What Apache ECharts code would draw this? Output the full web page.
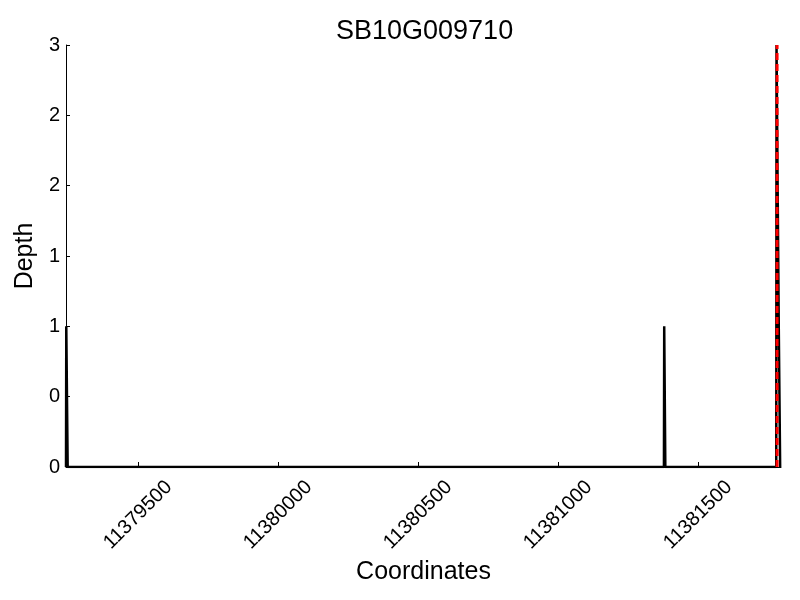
<!DOCTYPE html>
<html>
<head>
<meta charset="utf-8">
<script src="https://cdn.jsdelivr.net/npm/echarts@6/dist/echarts.min.js"></script>
<style>html,body{margin:0;padding:0;background:#fff}#c{width:800px;height:600px}</style>
</head>
<body>
<div id="c"></div>
<script>
const titleText = "SB10G009710";
const xTicks = [11379500, 11380000, 11380500, 11381000, 11381500];
const yTicks = [0, 0.5, 1, 1.5, 2, 2.5, 3];
const depthX = [11379243, 11379244, 11379248, 11379249, 11381378, 11381379, 11381382, 11381383, 11381779, 11381780, 11381783, 11381784, 11381787, 11381788, 11381792, 11381793];
const depthY = [0, 1, 1, 0, 0, 1, 1, 0, 0, 3, 3, 2, 2, 1, 1, 0];
const markerX = [11381782];
const xMin = 11379243, xMax = 11381796;

const depthData = depthX.map((x, i) => [x, depthY[i]]);
const markerData = [[markerX[0], 0], [markerX[0], 3]];
const font = '"Liberation Sans", Arial, Helvetica, sans-serif';

const chart = echarts.init(document.getElementById('c'), null, {renderer: 'canvas'});
chart.setOption({
  animation: false,
  backgroundColor: '#ffffff',
  title: {
    text: titleText, left: 331, top: 13,
    textStyle: {fontFamily: font, fontSize: 27, fontWeight: 'normal', color: '#000'}
  },
  grid: {left: 66, right: 19, top: 45, bottom: 133, containLabel: false},
  xAxis: {
    type: 'value', min: xMin, max: xMax,
    name: 'Coordinates', nameLocation: 'middle', nameGap: 88,
    nameTextStyle: {fontFamily: font, fontSize: 25, color: '#000'},
    axisLine: {show: true, onZero: false, lineStyle: {color: '#000', width: 1}},
    axisTick: {show: true, inside: true, length: 5, lineStyle: {color: '#000'}, customValues: xTicks},
    axisLabel: {
      show: true, rotate: 45, align: 'center', verticalAlign: 'middle', margin: 48,
      fontFamily: font, fontSize: 20, color: '#000', customValues: xTicks,
      formatter: v => String(v)
    },
    splitLine: {show: false}
  },
  yAxis: {
    type: 'value', min: 0, max: 3, interval: 0.5,
    name: 'Depth', nameLocation: 'middle', nameGap: 25, nameRotate: 90,
    nameTextStyle: {fontFamily: font, fontSize: 25, color: '#000'},
    axisLine: {show: true, lineStyle: {color: '#000', width: 1}},
    axisTick: {show: true, inside: true, length: 4, lineStyle: {color: '#000'}},
    axisLabel: {fontFamily: font, fontSize: 20, color: '#000', margin: 6,
      formatter: v => String(Math.floor(v))},
    splitLine: {show: false}
  },
  series: [
    {
      type: 'line', data: depthData, showSymbol: false, symbol: 'none',
      lineStyle: {color: '#000', width: 2.5}, z: 2
    },
    {
      type: 'line', data: markerData, showSymbol: false, symbol: 'none',
      lineStyle: {color: '#ff0000', width: 3, type: [7, 4]}, z: 3
    }
  ]
});
</script>
</body>
</html>
